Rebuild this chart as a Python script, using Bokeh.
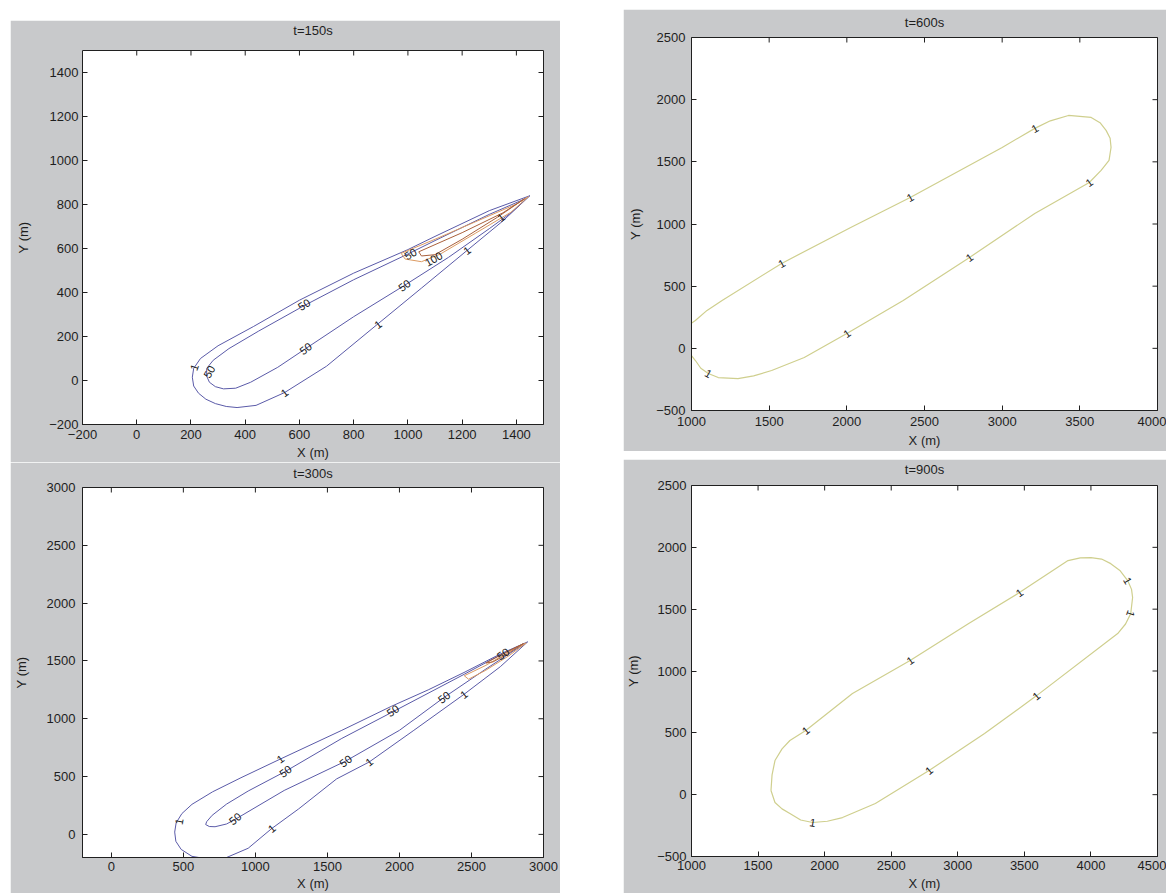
from bokeh.plotting import figure
from bokeh.layouts import row, column
from bokeh.models import Range1d, FixedTicker, Spacer, ColumnDataSource, LinearAxis
from bokeh.embed import file_html
from bokeh.resources import INLINE
from bokeh.core.properties import value

# ---------------- data ----------------
# t=150s
t150_c1_x = [1450, 1300, 1100, 1000, 800, 600, 430, 300, 235, 210, 205, 210, 228, 255, 290, 330, 370, 440, 545, 700, 890, 1050, 1218, 1350, 1450]
t150_c1_y = [840, 772, 655, 595, 488, 365, 245, 158, 100, 55, 15, -25, -58, -85, -105, -118, -123, -113, -55, 65, 258, 420, 591, 725, 840]
t150_c50_x = [1440, 1300, 1100, 1000, 800, 617, 450, 340, 282, 258, 258, 268, 290, 320, 365, 420, 520, 623, 800, 987, 1150, 1300, 1380, 1440]
t150_c50_y = [830, 755, 636, 575, 458, 340, 225, 145, 92, 55, 20, -8, -28, -38, -35, -8, 60, 145, 290, 432, 560, 690, 762, 830]
t150_c100_x = [975, 1100, 1250, 1400, 1445, 1380, 1250, 1120, 1050, 990, 975]
t150_c100_y = [578, 642, 722, 802, 836, 765, 670, 575, 540, 552, 578]
t150_c500_x = [1040, 1200, 1350, 1430, 1330, 1200, 1100, 1050, 1040]
t150_c500_y = [585, 672, 762, 826, 742, 642, 572, 566, 585]
t150_lab_x = [212, 268, 617, 623, 987, 545, 890, 1218, 1010, 1095, 1343]
t150_lab_y = [60, 40, 345, 145, 432, -55, 255, 591, 575, 552, 741]
t150_lab_t = ["1", "50", "50", "50", "50", "1", "1", "1", "50", "100", "1"]
t150_lab_a = [70, 60, 32, 37, 37, 37, 37, 37, 30, 30, 37]

# t=300s
t300_c1_x = [2890, 2700, 2448, 2200, 1943, 1600, 1174, 900, 703, 560, 490, 450, 440, 448, 485, 560, 680, 800, 950, 1113, 1300, 1564, 1790, 2100, 2448, 2700, 2890]
t300_c1_y = [1665, 1560, 1400, 1250, 1107, 900, 652, 490, 368, 260, 180, 100, 20, -60, -130, -190, -215, -200, -120, 50, 220, 480, 626, 900, 1211, 1450, 1665]
t300_c50_x = [2870, 2700, 2450, 1954, 1600, 1209, 950, 800, 700, 662, 655, 680, 720, 800, 860, 1200, 1627, 2000, 2310, 2600, 2870]
t300_c50_y = [1650, 1552, 1385, 1060, 830, 545, 375, 262, 165, 110, 85, 68, 66, 90, 130, 380, 634, 900, 1185, 1430, 1650]
t300_c100_x = [2450, 2600, 2750, 2880, 2760, 2600, 2480, 2450]
t300_c100_y = [1372, 1462, 1572, 1656, 1545, 1420, 1342, 1372]
t300_c500_x = [2600, 2750, 2860, 2750, 2650, 2600]
t300_c500_y = [1482, 1582, 1650, 1560, 1492, 1482]
t300_lab_x = [470, 860, 1113, 1209, 1174, 1627, 1790, 1954, 2310, 2448, 2720]
t300_lab_y = [110, 135, 50, 545, 652, 634, 626, 1070, 1185, 1211, 1560]
t300_lab_t = ["1", "50", "1", "50", "1", "50", "1", "50", "50", "1", "50"]
t300_lab_a = [80, 40, 40, 36, 36, 38, 38, 36, 38, 38, 36]

# t=600s
t600_x = [940, 1025, 1100, 1197, 1580, 2025, 2408, 3000, 3210, 3310, 3427, 3573, 3630, 3669, 3695, 3701, 3688, 3637, 3561, 3210, 2790, 2363, 2000, 1726, 1516, 1400, 1299, 1172, 1108, 1060, 1025, 950, 940]
t600_y = [150, 224, 305, 385, 683, 972, 1213, 1616, 1769, 1830, 1873, 1857, 1815, 1753, 1690, 1616, 1511, 1431, 1334, 1085, 731, 385, 119, -74, -178, -222, -243, -235, -202, -160, -98, 20, 150]
t600_lab_x = [1108, 1580, 2408, 3210, 3561, 2790, 2000]
t600_lab_y = [-202, 683, 1213, 1769, 1334, 731, 119]
t600_lab_t = ["1", "1", "1", "1", "1", "1", "1"]
t600_lab_a = [-30, 30, 30, 30, 35, 35, 35]

# t=900s
t900_x = [1597, 1605, 1627, 1680, 1739, 1858, 2209, 2642, 3082, 3463, 3828, 3920, 4000, 4080, 4149, 4220, 4276, 4305, 4313, 4299, 4260, 4201, 3590, 3201, 2784, 2381, 2134, 2020, 1910, 1820, 1739, 1680, 1627, 1597]
t900_y = [34, 160, 276, 370, 438, 519, 818, 1085, 1384, 1634, 1893, 1915, 1917, 1905, 1868, 1810, 1731, 1660, 1594, 1464, 1380, 1303, 799, 494, 195, -71, -185, -215, -225, -205, -152, -115, -63, 34]
t900_lab_x = [1858, 2642, 3463, 4276, 4299, 3590, 2784, 1910]
t900_lab_y = [519, 1085, 1634, 1731, 1464, 799, 195, -225]
t900_lab_t = ["1", "1", "1", "1", "1", "1", "1", "1"]
t900_lab_a = [40, 35, 35, -60, -110, 40, 40, -10]

# ---------------- styling ----------------
FIG_BG = "#c8c9cb"
FONT = "Liberation Sans"
TXT = "#1e1e1e"
FS = "13px"
AX = "#202020"
BLUE = "#5a5aa8"
ORANGE = "#dc9a62"
BROWN = "#a9603c"
PALE = "#cfcf8e"


def make_fig(w, h, xr, yr, xticks, yticks, title, title_gap, borders, xt_so, xl_so, yt_so, yl_so):
    p = figure(width=w, height=h, x_range=Range1d(*xr), y_range=Range1d(*yr),
               output_backend="svg", toolbar_location=None,
               min_border_left=borders[0], min_border_right=borders[1],
               min_border_top=borders[2], min_border_bottom=borders[3],
               background_fill_color="white", border_fill_color=FIG_BG,
               outline_line_color=AX, x_axis_label="X (m)", y_axis_label="Y (m)")
    p.title.text = title
    p.title.align = "center"
    p.title.text_font = FONT
    p.title.text_font_size = FS
    p.title.text_font_style = "normal"
    p.title.text_color = TXT
    p.title.standoff = 0
    p.xgrid.visible = False
    p.ygrid.visible = False
    p.xaxis.ticker = FixedTicker(ticks=xticks)
    p.yaxis.ticker = FixedTicker(ticks=yticks)
    p.xaxis.major_label_standoff = xt_so
    p.xaxis.axis_label_standoff = xl_so
    p.yaxis.major_label_standoff = yt_so
    p.yaxis.axis_label_standoff = yl_so
    for ax in p.axis:
        ax.major_tick_in = 5
        ax.major_tick_out = 0
        ax.minor_tick_line_color = None
        ax.axis_line_color = AX
        ax.major_tick_line_color = AX
        ax.major_label_text_font = FONT
        ax.major_label_text_font_size = FS
        ax.major_label_text_color = TXT
        ax.axis_label_text_font = FONT
        ax.axis_label_text_font_size = FS
        ax.axis_label_text_font_style = "normal"
        ax.axis_label_text_color = TXT
    # a blank top axis (one grey-on-grey tick) that only opens a gap between box and title
    gap = LinearAxis(ticker=FixedTicker(ticks=[xr[0]]), major_tick_out=title_gap, major_tick_in=0,
                     major_tick_line_color=FIG_BG, axis_line_color=None, minor_tick_line_color=None,
                     major_label_standoff=0, major_label_text_color=None)
    p.add_layout(gap, "above")
    # mirrored inward ticks on the top and right edges of the box
    p.scatter(xticks, [yr[1]] * len(xticks), marker="dash", size=10, angle=90, angle_units="deg",
              line_color=AX, line_width=1)
    p.scatter([xr[1]] * len(yticks), yticks, marker="dash", size=10,
              line_color=AX, line_width=1)
    return p


def add_labels(p, xs, ys, ts, angs):
    src = ColumnDataSource(dict(x=xs, y=ys, t=ts, a=angs))
    p.text(x="x", y="y", text="t", angle="a", angle_units="deg", source=src,
           text_font=value(FONT), text_font_size=value("11px"), text_color="#202020",
           text_align="center", text_baseline="middle")


# t=150s
p1 = make_fig(550, 442, (-200, 1500), (-200, 1500), list(range(-200, 1401, 200)), list(range(-200, 1401, 200)),
              "t=150s", 13, (64, 9, 30, 38), 5, 3, 4, 15)
p1.line(t150_c1_x, t150_c1_y, line_color=BLUE, line_width=1)
p1.line(t150_c50_x, t150_c50_y, line_color=BLUE, line_width=1)
p1.line(t150_c100_x, t150_c100_y, line_color=ORANGE, line_width=1)
p1.line(t150_c500_x, t150_c500_y, line_color=BROWN, line_width=1)
add_labels(p1, t150_lab_x, t150_lab_y, t150_lab_t, t150_lab_a)

# t=300s
p3 = make_fig(550, 431, (-200, 3000), (-200, 3000), list(range(0, 3001, 500)), list(range(0, 3001, 500)),
              "t=300s", 7, (65, 17, 25, 34), 4, 2, 7, 15)
p3.line(t300_c1_x, t300_c1_y, line_color=BLUE, line_width=1)
p3.line(t300_c50_x, t300_c50_y, line_color=BLUE, line_width=1)
p3.line(t300_c100_x, t300_c100_y, line_color=ORANGE, line_width=1)
p3.line(t300_c500_x, t300_c500_y, line_color=BROWN, line_width=1)
add_labels(p3, t300_lab_x, t300_lab_y, t300_lab_t, t300_lab_a)

# t=600s
p2 = make_fig(543, 442, (1000, 4000), (-500, 2500), list(range(1000, 4001, 500)), list(range(-500, 2501, 500)),
              "t=600s", 8, (63, 9, 28, 41), 6, 4, 6, 10)
p2.line(t600_x, t600_y, line_color=PALE, line_width=1.2)
add_labels(p2, t600_lab_x, t600_lab_y, t600_lab_t, t600_lab_a)

# t=900s
p4 = make_fig(543, 434, (1000, 4500), (-500, 2500), list(range(1000, 4501, 500)), list(range(-500, 2501, 500)),
              "t=900s", 9, (65, 9, 26, 37), 4, 3, 5, 13)
p4.line(t900_x, t900_y, line_color=PALE, line_width=1.2)
add_labels(p4, t900_lab_x, t900_lab_y, t900_lab_t, t900_lab_a)

left = column(Spacer(width=550, height=20), p1, p3, spacing=0)
right = column(Spacer(width=543, height=9), p2, Spacer(width=543, height=8), p4, spacing=0)
layout = row(Spacer(width=10, height=893), left, Spacer(width=63, height=893), right, spacing=0)

open("out.html", "w").write(file_html(layout, INLINE, title="contours"))
